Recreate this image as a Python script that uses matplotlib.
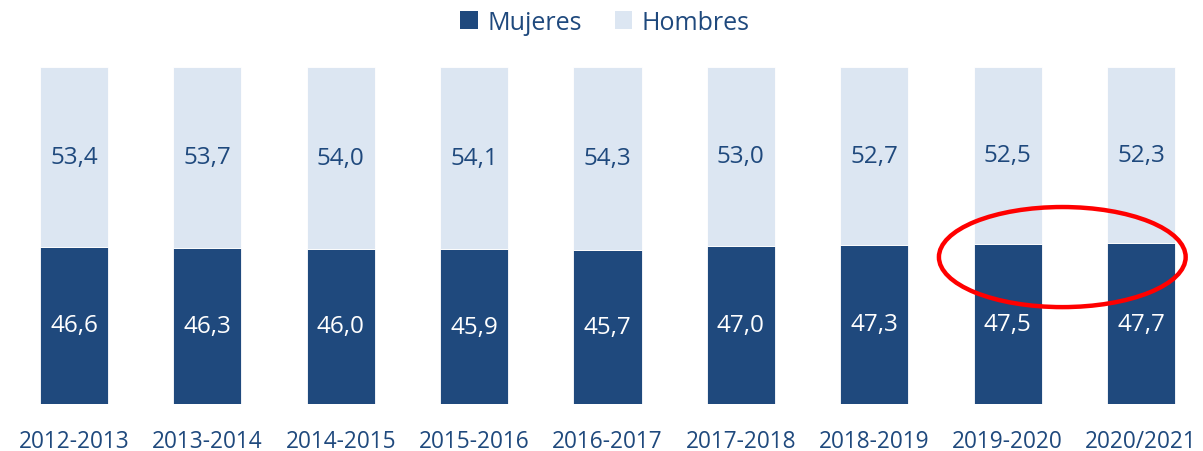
import matplotlib.pyplot as plt
from matplotlib.patches import Ellipse, Patch

plt.rcParams.update({
    'font.family': ['Open Sans', 'DejaVu Sans'],
})

DARK = '#1F497D'
LIGHT = '#DCE6F2'

periodos = ['2012-2013', '2013-2014', '2014-2015', '2015-2016', '2016-2017',
            '2017-2018', '2018-2019', '2019-2020', '2020/2021']
mujeres = [46.6, 46.3, 46.0, 45.9, 45.7, 47.0, 47.3, 47.5, 47.7]
hombres = [53.4, 53.7, 54.0, 54.1, 54.3, 53.0, 52.7, 52.5, 52.3]


def fmt(v):
    return f'{v:.1f}'.replace('.', ',')


fig = plt.figure(figsize=(12.03, 4.52), dpi=100)
ax = fig.add_axes([14 / 1203, 47 / 452, 1187 / 1203, 337 / 452])

x = range(len(periodos))
ax.bar(x, mujeres, width=0.51, color=DARK, edgecolor='white', linewidth=0.6)
ax.bar(x, hombres, bottom=mujeres, width=0.51, color=LIGHT,
       edgecolor='white', linewidth=0.6)

for i, (m, h) in enumerate(zip(mujeres, hombres)):
    ax.text(i, m / 2, fmt(m), ha='center', va='center', color='white',
            fontsize=17.5)
    ax.text(i, m + h / 2, fmt(h), ha='center', va='center', color=DARK,
            fontsize=17.5)

ax.set_xlim(-0.45, 8.45)
ax.set_ylim(0, 100)
ax.set_xticks(list(x))
ax.set_xticklabels(periodos, fontsize=16.3, color=DARK)
ax.tick_params(axis='x', length=0, pad=18)
ax.set_yticks([])
for s in ax.spines.values():
    s.set_visible(False)

# elipse roja resaltando los dos últimos cursos
ell = Ellipse((7.41, 43.6), width=1.85, height=29.7, fill=False,
              edgecolor='#FF0000', linewidth=3.2, clip_on=False)
ax.add_patch(ell)

handles = [Patch(facecolor=DARK, label='Mujeres'),
           Patch(facecolor=LIGHT, label='Hombres')]
fig.legend(handles=handles, loc='center', bbox_to_anchor=(605 / 1203, 1 - 23 / 452),
           ncol=2, frameon=False, fontsize=18, labelcolor=DARK,
           handlelength=0.7, handleheight=0.7, handletextpad=0.4,
           columnspacing=1.3)

fig.savefig('out.png', dpi=100)
